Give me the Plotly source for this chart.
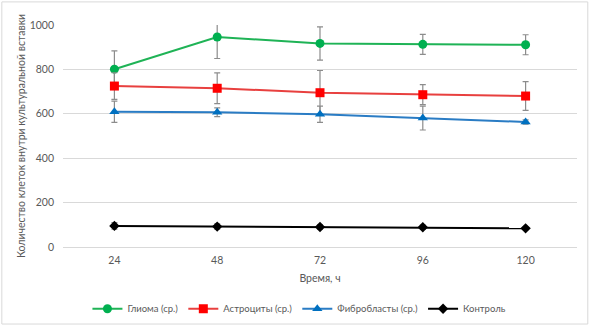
import plotly.graph_objects as go

hours = ["24", "48", "72", "96", "120"]
glioma = [801, 946, 917, 913, 911]
glioma_err = [82, 97, 75, 45, 45]
astro = [725, 715, 695, 686, 680]
astro_err = [60, 69, 100, 45, 65]
fibro = [609, 607, 598, 581, 563]
fibro_err = [48, 20, 37, 54, 10]
control = [95, 92, 90, 89, 84]
control_err = [15, 12, 10, 10, 6]

series = [
    ("Глиома (ср.)", glioma, glioma_err, "#1fb356", "#00B050", "circle", 9),
    ("Астроциты (ср.)", astro, astro_err, "#e8403f", "#FF0000", "square", 9),
    ("Фибробласты (ср.)", fibro, fibro_err, "#2a7cc4", "#0070C0", "triangle-up", 9),
    ("Контроль", control, control_err, "#000000", "#000000", "diamond", 8),
]

fig = go.Figure()
for name, vals, errs, lc, mc, sym, ms in series:
    fig.add_trace(go.Scatter(
        x=hours, y=vals, name=name, mode="lines+markers",
        line=dict(color=lc, width=2),
        marker=dict(color=mc, symbol=sym, size=ms),
        error_y=dict(type="data", array=errs, visible=True, color="#8c8c8c", thickness=1.2, width=3),
        cliponaxis=False,
    ))

font = "Lato, Liberation Sans, sans-serif"
fs = 10.5
fig.update_layout(
    width=591, height=327,
    margin=dict(l=63, r=14, t=25, b=80, autoexpand=False),
    paper_bgcolor="white", plot_bgcolor="white",
    font=dict(family=font, size=fs, color="#595959"),
    showlegend=True,
    legend=dict(orientation="h", x=0.46, xanchor="center", y=-0.278, yanchor="middle",
                font=dict(size=9.5, color="#595959"), itemwidth=30, traceorder="normal"),
    xaxis=dict(type="category", range=[-0.5, 4.5], showgrid=False, ticks="",
               showline=False, zeroline=False, automargin=False, ticklabelstandoff=5,
               title=dict(text="Время, ч", font=dict(size=fs, color="#595959"), standoff=10)),
    yaxis=dict(range=[0, 1000], dtick=200, showgrid=True, gridcolor="#D9D9D9", gridwidth=1,
               zeroline=True, zerolinecolor="#D9D9D9", zerolinewidth=1, ticks="", showline=False,
               automargin=False, ticklabelstandoff=8,
               title=dict(text="Количество клеток внутри культуральной вставки",
                          font=dict(size=fs, color="#595959"), standoff=1)),
    shapes=[dict(type="rect", xref="paper", yref="paper",
                 x0=-0.119, x1=1.021, y0=-0.347, y1=1.104,
                 line=dict(color="#D9D9D9", width=1), fillcolor="rgba(0,0,0,0)", layer="below")],
)

fig.write_html("out.html")
